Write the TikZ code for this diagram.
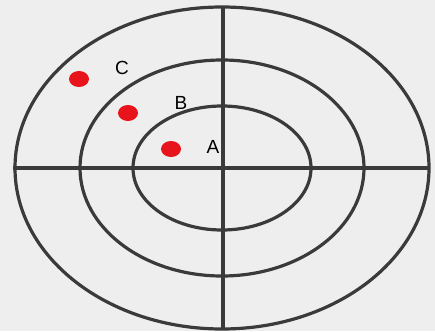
\documentclass[tikz,border=0pt]{standalone}
\usepackage{fontspec}
\setmainfont{Liberation Sans}
\definecolor{ringgray}{HTML}{3A3A3A}
\definecolor{paper}{HTML}{EEEEEE}
\definecolor{hitred}{HTML}{E8141B}
\begin{document}
\begin{tikzpicture}[x=1pt, y=-1pt, every node/.style={font=\fontsize{19}{22}\selectfont}]
            \fill[paper] (0,0) rectangle (435,331);
            \useasboundingbox (0,0) rectangle (435,331);
            % rings
            \coordinate (O) at (222,168);
            \draw[line width=3.2pt, ringgray] (O) ellipse [x radius=207, y radius=161];
            \draw[line width=3.2pt, ringgray] (O) ellipse [x radius=142, y radius=108];
            \draw[line width=3.2pt, ringgray] (O) ellipse [x radius=89, y radius=62];
            % cross hairs
            \draw[line width=3.2pt, ringgray] (13,168) -- (429,168);
            \draw[line width=3.2pt, ringgray] (223,6) -- (223,329);
            % hits
            \fill[hitred] (79,79) ellipse [x radius=10, y radius=8];
            \fill[hitred] (128,113) ellipse [x radius=10, y radius=8];
            \fill[hitred] (171,149) ellipse [x radius=10, y radius=8];
            \node (labC) at (122,68) {C};
            \node (labB) at (181,103) {B};
            \node (labA) at (213,147) {A};
        \end{tikzpicture}
\end{document}
